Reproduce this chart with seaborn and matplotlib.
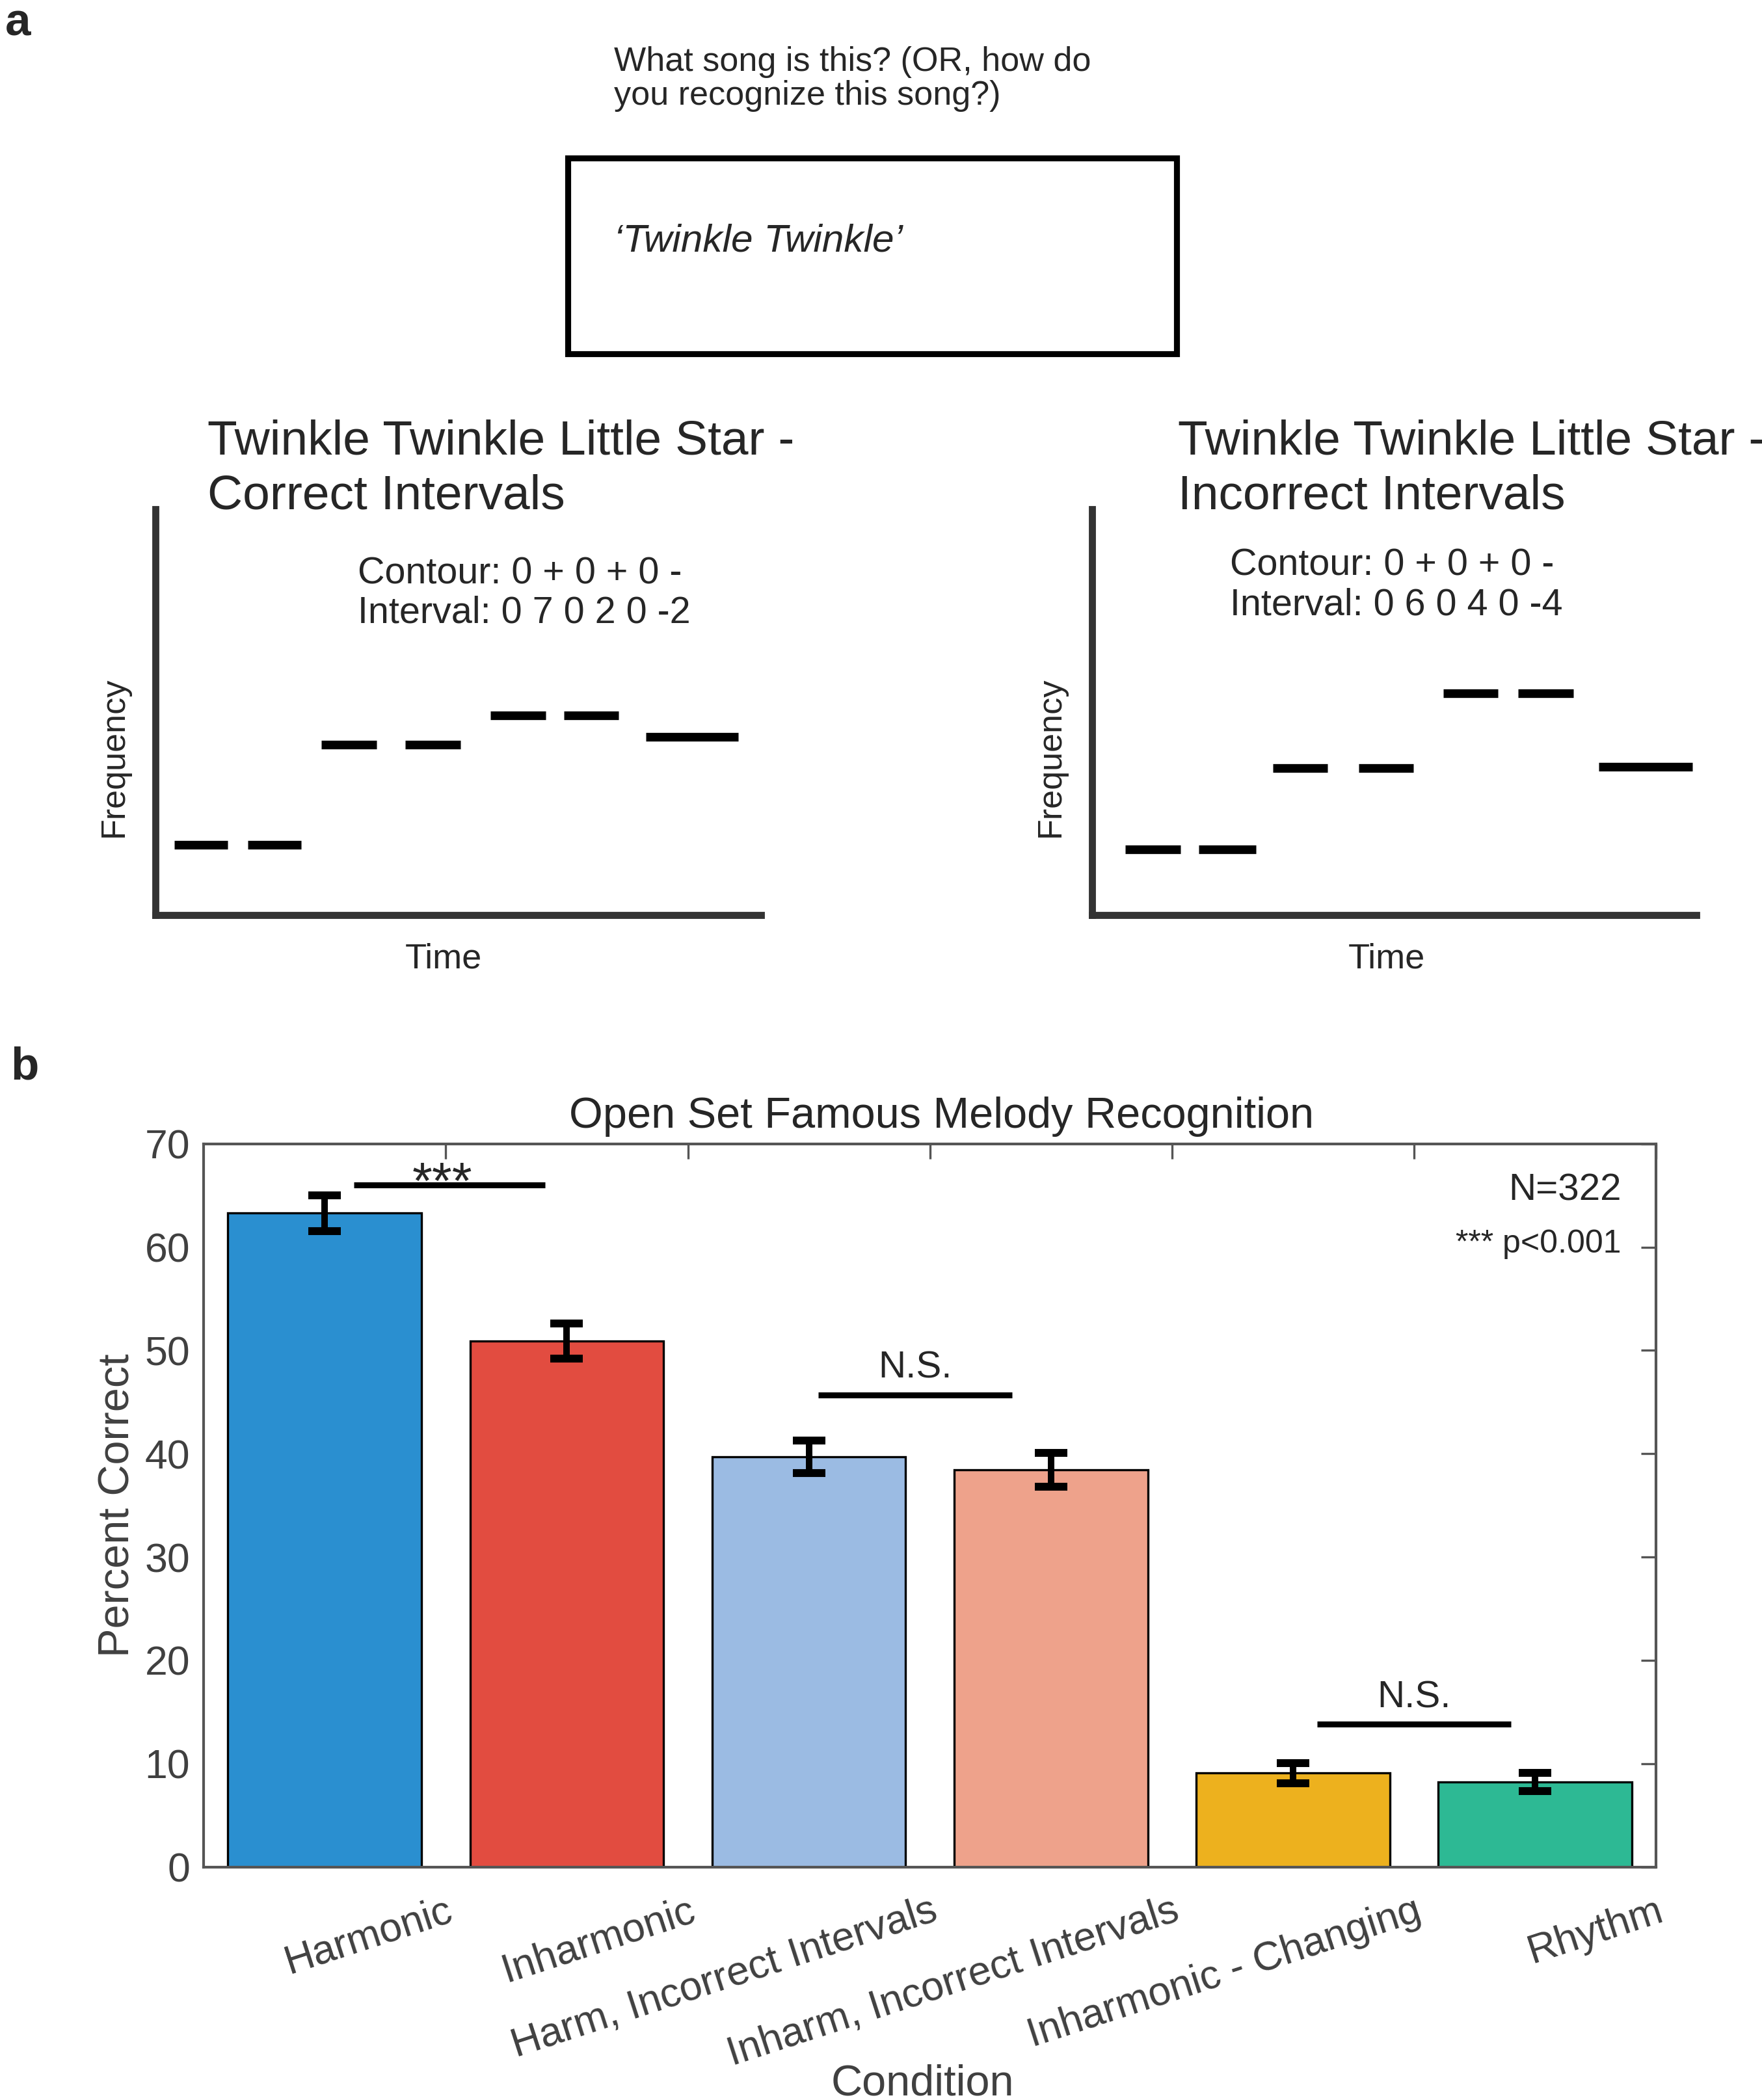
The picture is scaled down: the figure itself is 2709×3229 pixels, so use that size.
import numpy as np
import pandas as pd
import seaborn as sns
import matplotlib.pyplot as plt
from matplotlib.patches import Rectangle

# ---- data: panel b ----
conditions = ["Harmonic", "Inharmonic", "Harm, Incorrect Intervals",
              "Inharm, Incorrect Intervals", "Inharmonic - Changing", "Rhythm"]
percent_correct = [63.3, 50.9, 39.7, 38.45, 9.1, 8.25]
sem = [1.73, 1.7, 1.55, 1.65, 0.98, 0.88]
bar_colors = ["#2A8FD0", "#E24C40", "#9BBBE3", "#EEA28B", "#EDB11E", "#2DB994"]

# significance brackets
sig_x0 = [0.12, 2.04, 4.10]
sig_x1 = [0.91, 2.84, 4.90]
sig_y = [66.0, 45.7, 13.8]
sig_text = ["***", "N.S.", "N.S."]

# ---- data: panel a (sketched notes, time / pitch in arbitrary units) ----
correct_on = [3.1, 15.3, 27.4, 41.2, 55.3, 67.5, 81.0]
correct_off = [11.9, 24.1, 36.5, 50.4, 64.4, 76.5, 96.2]
correct_pitch = [17.2, 17.2, 41.9, 41.9, 49.2, 49.2, 43.9]
incorrect_on = [5.5, 17.7, 29.9, 44.1, 58.1, 70.5, 83.8]
incorrect_off = [14.6, 27.1, 39.0, 53.2, 67.2, 79.6, 99.3]
incorrect_pitch = [16.1, 16.1, 36.2, 36.2, 54.6, 54.6, 36.5]

sns.set_style("white")
plt.rcParams['font.family'] = ['Liberation Sans', 'DejaVu Sans']

W, H = 1315.0, 1568.0  # layout measured on the shrunk reference
fig = plt.figure(figsize=(2709 / 300, 3229 / 300), dpi=300)


def fx(x):
    return x / W


def fy(y):
    return 1 - y / H


# ---------------- panel a ----------------
fig.text(0.003, 0.999, "a", fontsize=17, fontweight="bold", ha="left", va="top")
fig.text(fx(458), fy(59), "What song is this? (OR, how do\nyou recognize this song?)",
         fontsize=12.5, linespacing=1.1, ha="left", va="center")
fig.patches.append(Rectangle((fx(424), fy(264)), fx(878) - fx(424), fy(118) - fy(264),
                             transform=fig.transFigure, fill=False, lw=2.2, ec="black"))
fig.text(fx(458), fy(180), "\u2018Twinkle Twinkle\u2019", fontsize=14.5, style="italic",
         ha="left", va="center")

sketches = [
    (116, 568, correct_on, correct_off, correct_pitch,
     "Twinkle Twinkle Little Star -\nCorrect Intervals", 155, 350,
     "Contour: 0 + 0 + 0 -\nInterval: 0 7 0 2 0 -2", 267, 443, 331),
    (815, 1266, incorrect_on, incorrect_off, incorrect_pitch,
     "Twinkle Twinkle Little Star -\nIncorrect Intervals", 879, 350,
     "Contour: 0 + 0 + 0 -\nInterval: 0 6 0 4 0 -4", 918, 437, 1035),
]
for (x0, x1, on, off, pitch, title, tx, ty, info, ix, iy, timex) in sketches:
    sax = fig.add_axes([fx(x0), fy(683), fx(x1) - fx(x0), fy(380) - fy(683)])
    sax.hlines(pitch, on, off, colors="black", lw=3.2)
    sax.set_xlim(0, 100)
    sax.set_ylim(0, 100)
    sax.set_xticks([])
    sax.set_yticks([])
    sns.despine(ax=sax)
    for side in ["left", "bottom"]:
        sax.spines[side].set_color("#333333")
        sax.spines[side].set_linewidth(2.6)
    sax.patch.set_alpha(0)
    fig.text(fx(tx), fy(ty), title, fontsize=18, linespacing=1.27, ha="left", va="center")
    fig.text(fx(ix), fy(iy), info, fontsize=13.8, linespacing=1.15, ha="left", va="center")
    fig.text(fx(x0 - 31), fy(565), "Frequency", fontsize=12.5, rotation=90,
             ha="center", va="center")
    fig.text(fx(timex), fy(716), "Time", fontsize=13, ha="center", va="center")

# ---------------- panel b ----------------
fig.text(fx(8), fy(797), "b", fontsize=17, fontweight="bold", ha="left", va="center")

df = pd.DataFrame({"Condition": conditions, "Percent": percent_correct, "SEM": sem})
ax = fig.add_axes([fx(152), fy(1394), fx(1236) - fx(152), fy(854) - fy(1394)])
sns.barplot(data=df, x="Condition", y="Percent", hue="Condition", palette=bar_colors,
            order=conditions, hue_order=conditions, width=0.8, saturation=1,
            edgecolor="black", linewidth=0.8, errorbar=None, legend=False, ax=ax)
ax.errorbar(np.arange(len(conditions)), df["Percent"], yerr=df["SEM"], fmt="none",
            ecolor="black", elinewidth=2.4, capsize=6, capthick=2.9, zorder=5)

for x0, x1, y, t in zip(sig_x0, sig_x1, sig_y, sig_text):
    ax.plot([x0, x1], [y, y], color="black", lw=2.2, solid_capstyle="butt")
    if t == "***":
        ax.text((x0 + x1) / 2 - 0.03, y - 1.3, t, fontsize=19, ha="center", va="baseline")
    else:
        ax.text((x0 + x1) / 2, y + 0.9, t, fontsize=14, ha="center", va="bottom")

ax.text(0.976, 65.5, "N=322", transform=ax.get_yaxis_transform(), fontsize=14,
        ha="right", va="center")
ax.text(0.976, 60.3, "*** p<0.001", transform=ax.get_yaxis_transform(), fontsize=12,
        ha="right", va="center")

ax.set_xlim(-0.5, len(conditions) - 0.5)
ax.set_ylim(0, 70)
ax.set_yticks(range(0, 71, 10))
ax.set_xticks(np.arange(len(conditions)) + 0.5)
ax.set_xticklabels(conditions, rotation=18, ha="right", va="top", rotation_mode="anchor")
ax.tick_params(axis="both", direction="in", length=5.5, width=0.8, color="#555555",
               labelcolor="#404040", labelsize=15, top=True, right=True)
ax.tick_params(axis="x", pad=9)
ax.tick_params(axis="y", pad=5)
for s in ax.spines.values():
    s.set_visible(True)
    s.set_color("#555555")
    s.set_linewidth(1.0)

ax.set_title("Open Set Famous Melody Recognition", fontsize=16, pad=6, x=0.508)
ax.set_ylabel("Percent Correct", fontsize=16, color="#404040")
ax.yaxis.set_label_coords(-0.045, 0.5)
ax.set_xlabel("Condition", fontsize=16, color="#404040", va="top")
ax.xaxis.set_label_coords(0.495, -0.272)

fig.savefig("out.png", dpi=300)
